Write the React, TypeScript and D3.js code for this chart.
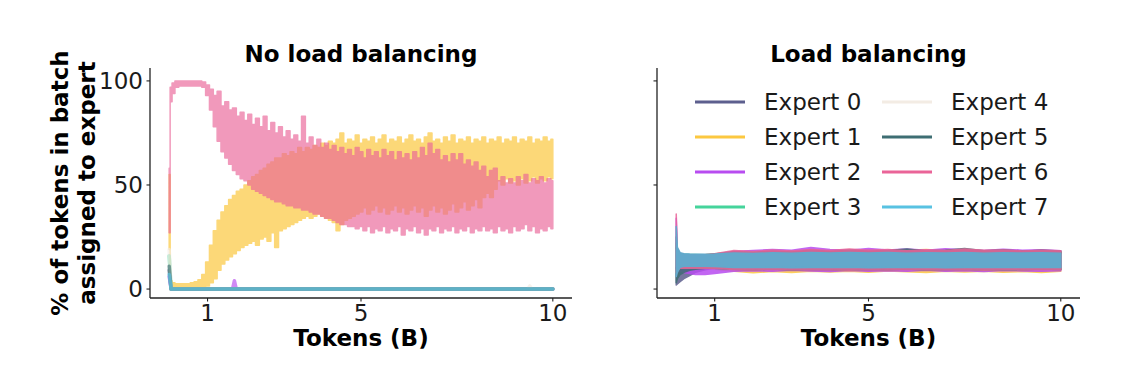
import React from "react";
import * as d3 from "d3";

const WIDTH = 1128;
const HEIGHT = 378;

const expertNames = ["Expert 0", "Expert 1", "Expert 2", "Expert 3", "Expert 4", "Expert 5", "Expert 6", "Expert 7"];
const expertColors = ["#5d5f8e", "#fcc840", "#b84cf0", "#45d49b", "#f3ece4", "#3e6e73", "#ea6498", "#58c2e2"];

const panelTitles = ["No load balancing", "Load balancing"];
const xTickValues = [1, 5, 10];
const yTickValues = [0, 50, 100];
const xLabel = "Tokens (B)";
const yLabelLines = ["% of tokens in batch", "assigned to expert"];

// ---------- Left panel: no load balancing (min / max envelope of each noisy series) ----------
const tokensLeft = [0, 0.05, ...d3.range(1, 101).map((i) => i / 10)];

const noLB_e6_hi = [58, 97,
  99, 100, 100, 100, 100, 100, 100, 100, 99.5, 98,
  96, 93, 95, 88, 90, 86, 87, 83, 85, 81,
  84, 79, 82, 78, 83, 76, 80, 75, 78, 73,
  76, 72, 74, 71, 83, 70, 73, 69, 72, 68,
  70, 67, 69, 66, 68, 65, 67, 64, 68, 66,
  63, 67, 64, 66, 63, 67, 64, 66, 62, 66,
  63, 65, 62, 66, 63, 68, 64, 70, 65, 67,
  62, 64, 61, 65, 62, 65, 60, 62, 59, 61,
  57, 59, 54, 57, 58, 52, 54, 51, 53, 51,
  54, 52, 55, 51, 53, 52, 54, 51, 53, 52];
const noLB_e6_lo = [27, 90,
  94, 97, 97.5, 97.5, 97.5, 97.5, 97.5, 97.5, 97, 93,
  86, 78, 71, 66, 63, 60, 57, 55, 53, 52,
  50, 48, 47, 46, 45, 44, 43, 42, 42, 41,
  40, 40, 39, 39, 38, 38, 37, 36, 36, 35,
  34, 34, 33, 32, 31, 31, 30, 30, 29, 30,
  28, 30, 27, 29, 28, 30, 27, 29, 28, 30,
  26, 29, 28, 30, 27, 29, 26, 29, 28, 30,
  27, 29, 28, 30, 27, 29, 28, 30, 27, 29,
  28, 30, 28, 29, 27, 30, 28, 29, 27, 30,
  28, 29, 31, 28, 30, 27, 29, 28, 30, 29];
const noLB_e1_hi = [55, 4,
  3, 2.5, 2.5, 2.5, 2.5, 3, 3.5, 4.5, 7, 13,
  21, 28, 33, 37, 40, 43, 45, 47, 48, 50,
  52, 54, 55, 57, 58, 60, 61, 63, 63, 65,
  64, 66, 65, 68, 66, 68, 67, 69, 68, 70,
  69, 71, 70, 72, 75, 70, 72, 71, 74, 70,
  72, 71, 73, 70, 72, 74, 70, 72, 71, 73,
  70, 72, 74, 71, 72, 70, 73, 75, 71, 72,
  70, 73, 71, 74, 70, 72, 71, 73, 70, 72,
  71, 73, 70, 72, 71, 73, 70, 72, 71, 73,
  70, 72, 71, 73, 70, 72, 71, 73, 71, 72];
const noLB_e1_lo = [19, 1,
  0.5, 0.5, 0.5, 0.5, 0.5, 0.5, 0.5, 0.5, 0.8, 1.5,
  3, 5, 9, 12, 14, 15.5, 17, 18.5, 20, 21,
  22, 23, 21, 24, 25, 23, 27, 20, 28, 29,
  30, 31, 32, 33, 34, 35, 34, 35, 36, 35,
  34, 33, 32, 28, 31, 33, 34, 35, 36, 37,
  39, 36, 38, 40, 37, 39, 36, 38, 40, 37,
  39, 36, 38, 40, 37, 39, 35, 38, 40, 37,
  39, 36, 38, 41, 37, 39, 42, 38, 40, 43,
  39, 44, 46, 44, 48, 52, 50, 53, 51, 52,
  50, 53, 51, 52, 54, 51, 53, 52, 54, 53];

// experts that collapse to zero
const tokensZero = [0, 0.05, 10];
const noLB_e0 = [9, 0, 0];
const tokensZeroE2 = [0, 0.05, 1.65, 1.7, 1.75, 10];
const noLB_e2_lo = [6, 0, 0, 0, 0, 0];
const noLB_e2_hi = [6, 0, 0, 4, 0, 0];
const noLB_e3 = [16, 0, 0];
const tokensZeroE4 = [0, 0.05, 9.35, 9.4, 9.45, 10];
const noLB_e4_lo = [19, 0, 0, 0, 0, 0];
const noLB_e4_hi = [19, 0, 0, 1.5, 0, 0];
const noLB_e5 = [11, 0, 0];
const noLB_e7 = [7, 0, 0];

// ---------- Right panel: load balancing ----------
const tokensRight = [0, 0.03, 0.1, 0.2, 0.35, 0.5, 0.75, 1, 1.5, 2, 2.5, 3, 3.5, 4, 4.5, 5, 5.5, 6, 6.5, 7, 7.5, 8, 8.5, 9, 9.5, 10];
const lb_e0_lo = [2, 2.5, 3.5, 5, 6.5, 8, 9.3, 10, 9.5, 9.8, 9.4, 9.7, 9.2, 9.6, 9.5, 9.3, 9.7, 9.4, 9.6, 9.3, 9.5, 9.8, 9.4, 9.6, 9.5, 9.7];
const lb_e0_hi = [14, 12, 13, 14, 15, 15.5, 16, 16.5, 17, 17.5, 17.8, 17.2, 17.6, 18.2, 17.4, 17.8, 18, 17.5, 17.7, 18.3, 17.6, 17.9, 18.1, 17.4, 17.8, 17.5];
const lb_e1_lo = [8, 9, 10, 10, 10, 10, 10, 9.5, 8.5, 7.8, 8.4, 8.0, 8.6, 8.2, 8.5, 8.1, 8.7, 8.3, 8.0, 8.5, 8.2, 8.6, 8.1, 8.4, 8.0, 8.5];
const lb_e1_hi = [22, 17, 16, 16, 16, 16.5, 16.5, 17, 17.5, 18, 17.5, 18.3, 17.8, 18.5, 18, 18.8, 18.2, 18.6, 19, 18.4, 18.7, 18.2, 18.9, 18.3, 18.5, 18];
const lb_e2_lo = [10, 8, 8.5, 8, 7.5, 7, 7, 7.5, 8.5, 8.8, 8.5, 9, 8.7, 8.4, 8.9, 8.6, 8.8, 8.5, 9, 8.6, 8.8, 8.4, 8.9, 8.7, 8.5, 8.8];
const lb_e2_hi = [34, 18, 15, 15, 15.5, 16, 16, 16.5, 18, 18.5, 19, 18.6, 20, 19, 18.7, 19.5, 18.8, 19.2, 18.6, 19.4, 18.9, 18.5, 19.1, 18.7, 18.9, 18.4];
const lb_e3_lo = [10, 9.5, 10, 10, 10, 10, 10, 10, 9.6, 9.4, 9.7, 9.3, 9.6, 9.5, 9.2, 9.6, 9.4, 9.7, 9.3, 9.5, 9.6, 9.2, 9.5, 9.4, 9.7, 9.5];
const lb_e3_hi = [20, 17.5, 17, 16.8, 16.6, 16.6, 16.5, 16.8, 17.5, 17.8, 17.4, 18, 17.6, 17.9, 18.2, 17.7, 18, 17.5, 18.1, 17.8, 17.6, 18.2, 17.9, 17.5, 18, 17.6];
const lb_e4_lo = [11, 10, 10.5, 10.5, 10.5, 10.5, 10.5, 10.3, 10, 10, 10, 10, 10, 10, 10, 10, 10, 10, 10, 10, 10, 10, 10, 10, 10, 10];
const lb_e4_hi = [19, 16, 16, 16, 16, 16, 16, 16.2, 16.5, 16.8, 16.6, 16.8, 16.5, 16.7, 16.6, 16.8, 16.5, 16.7, 16.6, 16.8, 16.5, 16.7, 16.6, 16.8, 16.5, 16.6];
const lb_e5_lo = [3, 5, 7, 8, 9, 9.5, 10, 10, 9.5, 9.3, 9.6, 9.2, 9.5, 9.4, 9.1, 9.5, 9.3, 9.6, 9.2, 9.4, 9.5, 9.1, 9.4, 9.3, 9.6, 9.4];
const lb_e5_hi = [25, 17, 16, 16, 16, 16.2, 16.3, 16.8, 18, 17.6, 18.3, 17.8, 18.6, 18, 18.8, 18.2, 18.5, 19.2, 18.3, 18.7, 19.5, 18.4, 18.8, 18.2, 18.6, 18.3];
const lb_e6_lo = [8, 9, 10, 10, 10, 10, 10, 10, 9.4, 9.2, 9.5, 9.1, 9.4, 9.3, 9.0, 9.4, 9.2, 9.5, 9.1, 9.3, 9.4, 9.0, 9.3, 9.2, 9.5, 9.3];
const lb_e6_hi = [36, 18, 16.5, 16.5, 16.5, 16.5, 16.5, 17, 18.5, 18, 18.8, 18.3, 19, 18.5, 19.3, 18.6, 19, 18.4, 18.9, 18.5, 19.2, 18.6, 18.8, 18.3, 18.7, 18.4];
const lb_e7_lo = [6, 8, 10.5, 11, 11, 11, 11, 10.8, 10.4, 10.3, 10.5, 10.2, 10.4, 10.3, 10.5, 10.2, 10.4, 10.3, 10.5, 10.2, 10.4, 10.3, 10.5, 10.3, 10.4, 10.3];
const lb_e7_hi = [30, 20, 17.5, 17, 16.8, 16.7, 16.7, 16.8, 17.3, 17.1, 17.4, 17.2, 17.5, 17.3, 17.6, 17.3, 17.5, 17.2, 17.4, 17.3, 17.5, 17.2, 17.4, 17.3, 17.4, 17.2];

type Series = {
  expert: number;
  tokens: number[];
  lo: number[];
  hi: number[];
  step?: boolean;
  lw: number;
  opacity: number;
  fill?: string;
};

const leftSeries: Series[] = [
  { expert: 0, tokens: tokensZero, lo: noLB_e0, hi: noLB_e0, lw: 3.5, opacity: 0.65 },
  { expert: 1, tokens: tokensLeft, lo: noLB_e1_lo, hi: noLB_e1_hi, step: true, lw: 1.5, opacity: 0.7 },
  { expert: 2, tokens: tokensZeroE2, lo: noLB_e2_lo, hi: noLB_e2_hi, lw: 3.5, opacity: 0.65 },
  { expert: 3, tokens: tokensZero, lo: noLB_e3, hi: noLB_e3, lw: 3.5, opacity: 0.65 },
  { expert: 4, tokens: tokensZeroE4, lo: noLB_e4_lo, hi: noLB_e4_hi, lw: 3.5, opacity: 0.65 },
  { expert: 5, tokens: tokensZero, lo: noLB_e5, hi: noLB_e5, lw: 3.5, opacity: 0.65 },
  { expert: 6, tokens: tokensLeft, lo: noLB_e6_lo, hi: noLB_e6_hi, step: true, lw: 1.5, opacity: 0.65 },
  { expert: 7, tokens: tokensZero, lo: noLB_e7, hi: noLB_e7, lw: 3.5, opacity: 0.65 },
];

const rightSeries: Series[] = [
  { expert: 0, tokens: tokensRight, lo: lb_e0_lo, hi: lb_e0_hi, lw: 1.5, opacity: 0.85 },
  { expert: 1, tokens: tokensRight, lo: lb_e1_lo, hi: lb_e1_hi, lw: 1.5, opacity: 0.85 },
  { expert: 2, tokens: tokensRight, lo: lb_e2_lo, hi: lb_e2_hi, lw: 1.5, opacity: 0.85 },
  { expert: 3, tokens: tokensRight, lo: lb_e3_lo, hi: lb_e3_hi, lw: 1.5, opacity: 0.85 },
  { expert: 4, tokens: tokensRight, lo: lb_e4_lo, hi: lb_e4_hi, lw: 1.5, opacity: 0.85 },
  { expert: 5, tokens: tokensRight, lo: lb_e5_lo, hi: lb_e5_hi, lw: 1.5, opacity: 0.85 },
  { expert: 6, tokens: tokensRight, lo: lb_e6_lo, hi: lb_e6_hi, lw: 1.5, opacity: 0.85 },
  { expert: 7, tokens: tokensRight, lo: lb_e7_lo, hi: lb_e7_hi, lw: 1.5, opacity: 1, fill: "#63a8cb" },
];

const FONT = "DejaVu Sans";
const TEXT = "#1a1a1a";
const AX_TOP = 68;
const AX_BOTTOM = 298;

function Panel(props: {
  x0: number;
  x1: number;
  title: string;
  series: Series[];
  showYTickLabels: boolean;
  showYLabel: boolean;
  legend: boolean;
}) {
  const { x0, x1, title, series, showYTickLabels, showYLabel, legend } = props;
  const x = d3.scaleLinear().domain([-0.5, 10.5]).range([x0, x1]);
  const y = d3.scaleLinear().domain([-4.3, 106.2]).range([AX_BOTTOM, AX_TOP]);
  const cx = (x0 + x1) / 2;
  const cy = (AX_TOP + AX_BOTTOM) / 2;

  return (
    <g>
      {series.map((s) => {
        const area = d3
          .area<number>()
          .x((_, i) => x(s.tokens[i]))
          .y0((_, i) => y(s.lo[i]))
          .y1((_, i) => y(s.hi[i]))
          .curve(s.step ? d3.curveStep : d3.curveLinear);
        const col = s.fill ?? expertColors[s.expert];
        return (
          <path
            key={s.expert}
            d={area(s.tokens) ?? ""}
            fill={col}
            stroke={col}
            strokeWidth={s.lw}
            strokeLinejoin="round"
            opacity={s.opacity}
          />
        );
      })}

      {/* spines */}
      <line x1={x0} x2={x0} y1={AX_TOP} y2={AX_BOTTOM} stroke="#222" strokeWidth={1.3} />
      <line x1={x0} x2={x1} y1={AX_BOTTOM} y2={AX_BOTTOM} stroke="#222" strokeWidth={1.3} />

      {/* y ticks */}
      {yTickValues.map((v) => (
        <g key={"y" + v}>
          <line x1={x0 - 3.5} x2={x0} y1={y(v)} y2={y(v)} stroke="#222" strokeWidth={1.1} />
          {showYTickLabels && (
            <text x={x0 - 7} y={y(v) + 8.4} textAnchor="end" fontSize={23} fontFamily={FONT} fill={TEXT}>
              {v}
            </text>
          )}
        </g>
      ))}

      {/* x ticks */}
      {xTickValues.map((t) => (
        <g key={"x" + t}>
          <line x1={x(t)} x2={x(t)} y1={AX_BOTTOM} y2={AX_BOTTOM + 3.5} stroke="#222" strokeWidth={1.1} />
          <text x={x(t)} y={321} textAnchor="middle" fontSize={23} fontFamily={FONT} fill={TEXT}>
            {t}
          </text>
        </g>
      ))}

      <text x={cx} y={346} textAnchor="middle" fontSize={23} fontWeight="bold" fontFamily={FONT} fill="#000">
        {xLabel}
      </text>
      <text x={cx} y={62} textAnchor="middle" fontSize={23} fontWeight="bold" fontFamily={FONT} fill="#000">
        {title}
      </text>

      {showYLabel &&
        yLabelLines.map((line, i) => (
          <text
            key={line}
            transform={`translate(${68 + i * 27},${cy}) rotate(-90)`}
            textAnchor="middle"
            fontSize={23}
            fontWeight="bold"
            fontFamily={FONT}
            fill="#000"
          >
            {line}
          </text>
        ))}

      {legend &&
        expertNames.map((name, i) => {
          const col = Math.floor(i / 4);
          const row = i % 4;
          const lx = 695 + col * 187;
          const ly = 102 + row * 35;
          return (
            <g key={name}>
              <line x1={lx} x2={lx + 50} y1={ly} y2={ly} stroke={expertColors[i]} strokeWidth={3.2} />
              <text x={lx + 69} y={ly + 8.4} fontSize={23} fontFamily={FONT} fill={TEXT}>
                {name}
              </text>
            </g>
          );
        })}
    </g>
  );
}

export default function App() {
  return (
    <svg
      width={WIDTH}
      height={HEIGHT}
      viewBox={`0 0 ${WIDTH} ${HEIGHT}`}
      style={{ position: "absolute", left: 0, top: 0, background: "#fff" }}
    >
      <rect x={0} y={0} width={WIDTH} height={HEIGHT} fill="#fff" />
      <Panel x0={150} x1={572} title={panelTitles[0]} series={leftSeries} showYTickLabels showYLabel legend={false} />
      <Panel x0={657} x1={1080} title={panelTitles[1]} series={rightSeries} showYTickLabels={false} showYLabel={false} legend />
    </svg>
  );
}
